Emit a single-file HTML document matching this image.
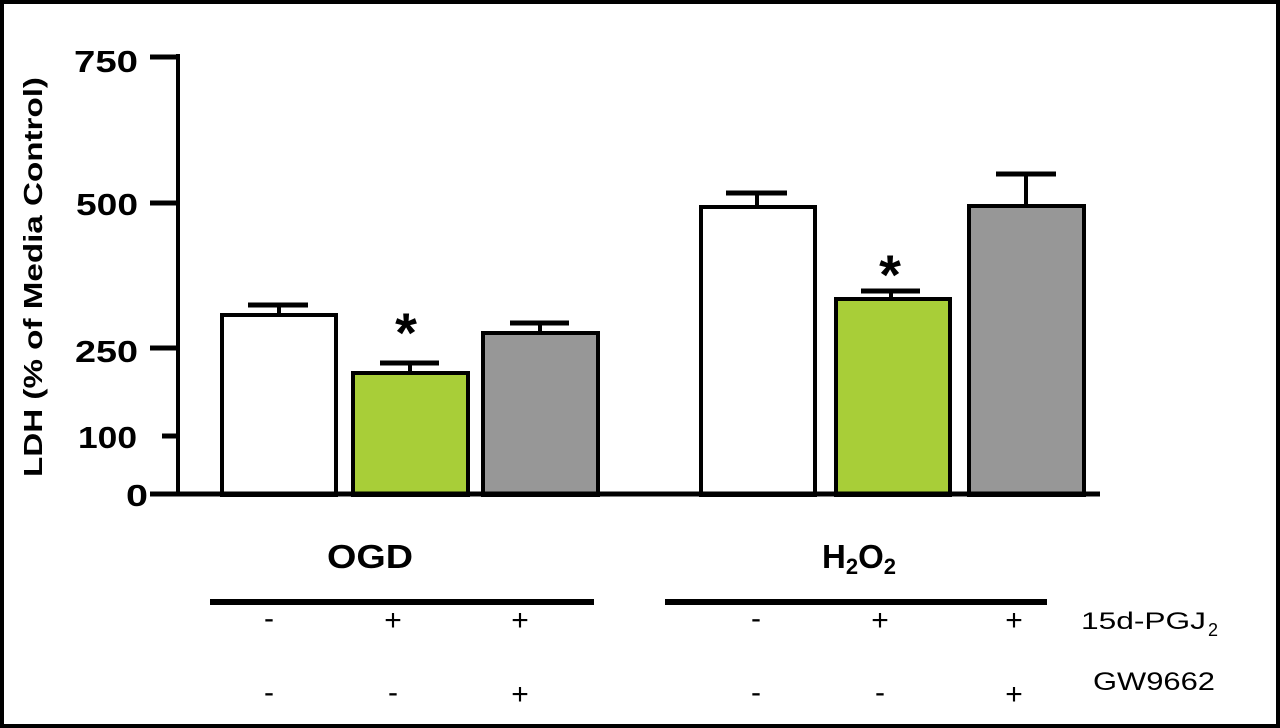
<!DOCTYPE html>
<html><head><style>
body{margin:0;width:1280px;height:728px;overflow:hidden;background:#fff}
svg{display:block}
text{font-family:"Liberation Sans",Arial,sans-serif}
</style></head><body>
<svg width="1280" height="728" viewBox="0 0 1280 728">
<rect x="2" y="2" width="1276" height="724" fill="#fff" stroke="#000" stroke-width="4"/>
<line x1="178" y1="54" x2="178" y2="496" stroke="#000" stroke-width="4"/>
<g stroke="#000" stroke-width="5">
<line x1="150" y1="57" x2="178" y2="57"/>
<line x1="150" y1="203" x2="178" y2="203"/>
<line x1="150" y1="348" x2="178" y2="348"/>
<line x1="162" y1="436" x2="178" y2="436"/>
<line x1="150" y1="494" x2="178" y2="494"/>
</g>
<g font-size="31" font-weight="bold">
<text x="74" y="72" textLength="64" lengthAdjust="spacingAndGlyphs">750</text>
<text x="76" y="215" textLength="62" lengthAdjust="spacingAndGlyphs">500</text>
<text x="75" y="362" textLength="63" lengthAdjust="spacingAndGlyphs">250</text>
<text x="78" y="448" textLength="59" lengthAdjust="spacingAndGlyphs">100</text>
<text x="126" y="506" textLength="22" lengthAdjust="spacingAndGlyphs">0</text>
</g>
<text transform="translate(42,277) rotate(-90)" font-size="26" font-weight="bold" text-anchor="middle" textLength="400" lengthAdjust="spacingAndGlyphs">LDH (% of Media Control)</text>
<g stroke="#000" stroke-width="4">
<rect x="222" y="315" width="114" height="180" fill="#fff"/>
<rect x="353" y="373" width="115" height="122" fill="#a8ce38"/>
<rect x="483" y="333" width="115" height="162" fill="#979797"/>
<rect x="701" y="207" width="114" height="288" fill="#fff"/>
<rect x="836" y="299" width="114" height="196" fill="#a8ce38"/>
<rect x="969" y="206" width="115" height="289" fill="#979797"/>
<line x1="279" y1="305" x2="279" y2="315"/><line x1="248" y1="305" x2="308" y2="305" stroke-width="5"/>
<line x1="410" y1="363" x2="410" y2="373"/><line x1="380" y1="363" x2="439" y2="363" stroke-width="5"/>
<line x1="540" y1="323" x2="540" y2="333"/><line x1="510" y1="323" x2="569" y2="323" stroke-width="5"/>
<line x1="757" y1="193" x2="757" y2="207"/><line x1="726" y1="193" x2="787" y2="193" stroke-width="5"/>
<line x1="891" y1="291" x2="891" y2="299"/><line x1="861" y1="291" x2="920" y2="291" stroke-width="5"/>
<line x1="1026" y1="174" x2="1026" y2="206"/><line x1="996" y1="174" x2="1056" y2="174" stroke-width="5"/>
</g>
<line x1="176" y1="494" x2="1100" y2="494" stroke="#000" stroke-width="5"/>
<g font-size="56" font-weight="bold" text-anchor="middle">
<text x="406" y="352">*</text>
<text x="890" y="294">*</text>
</g>
<text x="327" y="568" font-size="33" font-weight="bold" textLength="86" lengthAdjust="spacingAndGlyphs">OGD</text>
<text x="822" y="568" font-size="33" font-weight="bold">H<tspan font-size="22" dy="6">2</tspan><tspan dy="-6">O</tspan><tspan font-size="22" dy="6">2</tspan></text>
<line x1="210" y1="602" x2="594" y2="602" stroke="#000" stroke-width="6"/>
<line x1="665" y1="602" x2="1047" y2="602" stroke="#000" stroke-width="6"/>
<g font-size="30" text-anchor="middle">
<text x="269" y="628">-</text><text x="393" y="630">+</text><text x="520" y="630">+</text>
<text x="756" y="628">-</text><text x="880" y="630">+</text><text x="1014" y="630">+</text>
<text x="269" y="702">-</text><text x="393" y="702">-</text><text x="520" y="704">+</text>
<text x="756" y="702">-</text><text x="880" y="702">-</text><text x="1014" y="704">+</text>
</g>
<text x="1081" y="629" font-size="24" textLength="125" lengthAdjust="spacingAndGlyphs">15d-PGJ</text>
<text x="1208" y="636" font-size="18">2</text>
<text x="1093" y="690" font-size="25" textLength="122" lengthAdjust="spacingAndGlyphs">GW9662</text>
</svg>
</body></html>
